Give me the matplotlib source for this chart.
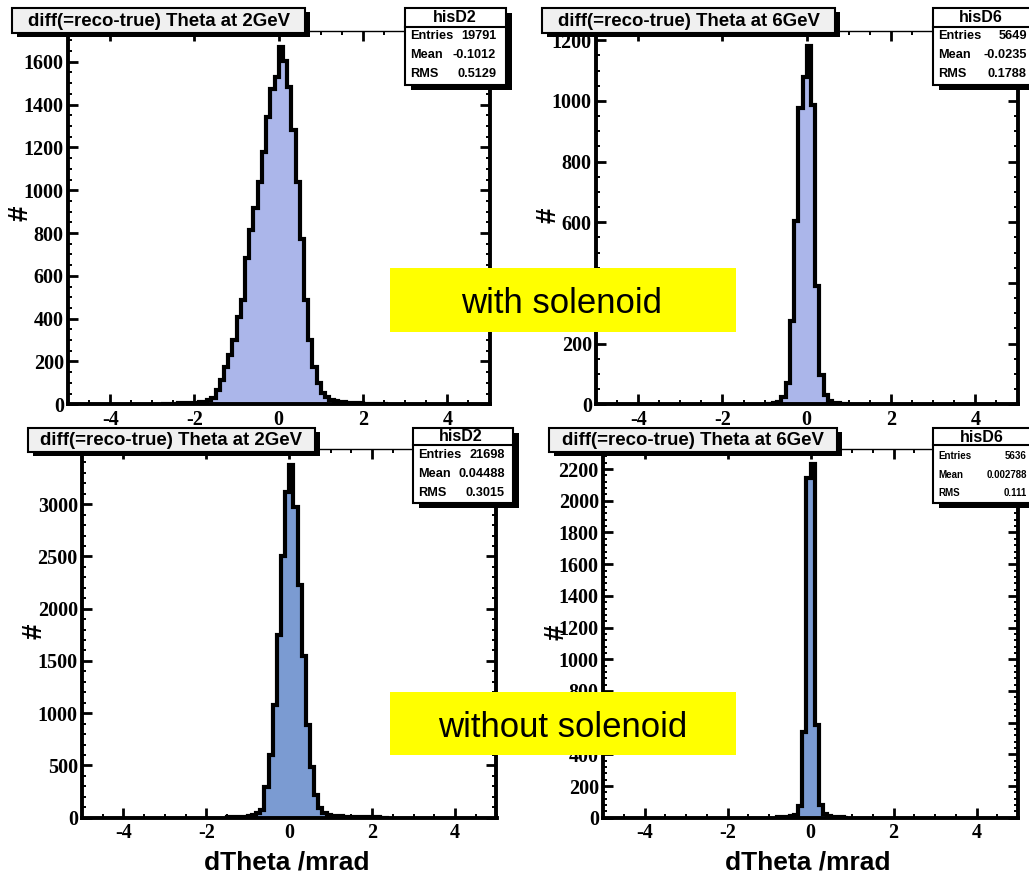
import numpy as np
import matplotlib
matplotlib.use('Agg')
import matplotlib.pyplot as plt
from matplotlib.patches import Rectangle
from matplotlib.ticker import MultipleLocator, FuncFormatter

plt.rcParams['axes.unicode_minus'] = False
plt.rcParams['font.family'] = ['Liberation Serif', 'DejaVu Serif']
plt.rcParams['font.weight'] = 'bold'

BIN_WIDTH = 0.1

# ---- data (counts per 0.1 mrad bin, first bin left edge given by *_start) ----
# with solenoid, 2 GeV
tl_start = -2.8
tl_counts = [2, 2, 3, 3, 4, 4, 5, 6, 8, 10, 13, 18,
             28, 67, 114, 176, 230, 300, 409, 487, 682, 814, 915, 1040, 1180, 1343, 1475, 1530,
             1668, 1605, 1482, 1283, 1040, 772, 487, 300, 176, 98, 55, 35, 22, 16, 12, 10, 8, 6,
             5, 4, 3, 3, 2, 2, 1, 1]
# with solenoid, 6 GeV
tr_start = -1.0
tr_counts = [1, 2, 3, 6, 25, 69, 275, 605, 977, 1080, 1180, 985, 390, 95, 30, 12, 5, 3, 2, 1]
# without solenoid, 2 GeV
bl_start = -1.5
bl_counts = [3, 4, 6, 8, 11, 15, 22, 41, 74, 296, 600, 1079, 1749, 2506, 3115,
             3370, 2970, 2225, 1550, 890, 485, 217, 90, 45, 28, 20, 15, 12, 10, 8, 6, 5, 4, 3, 3,
             2, 2, 1, 1]
# without solenoid, 6 GeV
br_start = -0.8
br_counts = [2, 3, 4, 8, 20, 72, 543, 2143, 2232, 586, 78, 22, 8, 4, 3, 2, 1]

titles = ["diff(=reco-true) Theta at 2GeV", "diff(=reco-true) Theta at 6GeV",
          "diff(=reco-true) Theta at 2GeV", "diff(=reco-true) Theta at 6GeV"]
stat_names = ["hisD2", "hisD6", "hisD2", "hisD6"]
stat_entries = ["19791", "5649", "21698", "5636"]
stat_means = ["-0.1012", "-0.0235", "0.04488", "0.002788"]
stat_rms = ["0.5129", "0.1788", "0.3015", "0.111"]
xlabel_text = "dTheta /mrad"
ylabel_text = "#"
banner_texts = ["with solenoid", "without solenoid"]

TOP_FILL = '#abb6ea'
BOT_FILL = '#7b9bd2'

W, H = 1029, 873
fig = plt.figure(figsize=(W / 100, H / 100), dpi=100)
fig.patch.set_facecolor('white')


def fig_rect(x0, x1, ytop, ybot):
    return [x0 / W, 1 - ybot / H, (x1 - x0) / W, (ybot - ytop) / H]


# 'hidden' = tick labels that lie completely under a title box / yellow banner
panels = [
    dict(counts=tl_counts, start=tl_start, rect=fig_rect(68, 489.5, 30.5, 404.3),
         ymax=1746, ymaj=200, ymin=50, fill=TOP_FILL, hidden=()),
    dict(counts=tr_counts, start=tr_start, rect=fig_rect(596, 1017.5, 30.5, 404.3),
         ymax=1232, ymaj=200, ymin=50, fill=TOP_FILL, hidden=(400,)),
    dict(counts=bl_counts, start=bl_start, rect=fig_rect(82, 496.5, 449.3, 817.7),
         ymax=3525, ymaj=500, ymin=100, fill=BOT_FILL, hidden=(3500,)),
    dict(counts=br_counts, start=br_start, rect=fig_rect(603, 1018, 449.3, 817.7),
         ymax=2325, ymaj=200, ymin=40, fill=BOT_FILL, hidden=(600,)),
]


def make_yfmt(hidden):
    def f(v, pos):
        iv = int(round(v))
        return '' if iv in hidden else "%d" % iv
    return FuncFormatter(f)


for p in panels:
    ax = fig.add_axes(p['rect'])
    counts = np.array(p['counts'], dtype=float)
    edges = p['start'] + BIN_WIDTH * np.arange(len(counts) + 1)
    ax.stairs(counts, edges, fill=True, color=p['fill'], lw=0, zorder=2)
    ax.stairs(counts, edges, baseline=0, color='black', lw=3.0, zorder=3)
    ax.set_xlim(-5, 5)
    ax.set_ylim(0, p['ymax'])
    ax.xaxis.set_major_locator(MultipleLocator(2))
    ax.xaxis.set_minor_locator(MultipleLocator(0.5))
    ax.yaxis.set_major_locator(MultipleLocator(p['ymaj']))
    ax.yaxis.set_minor_locator(MultipleLocator(p['ymin']))
    ax.xaxis.set_major_formatter(FuncFormatter(lambda v, pos: "%d" % round(v)))
    ax.yaxis.set_major_formatter(make_yfmt(p['hidden']))
    ax.tick_params(which='both', direction='in', top=True, right=True,
                   labelsize=14.5, colors='black')
    ax.tick_params(which='major', length=7.5, width=2.0)
    ax.tick_params(which='minor', length=3.2, width=1.4)
    ax.tick_params(axis='x', pad=4)
    ax.tick_params(axis='y', pad=3)
    for s in ['left', 'bottom', 'right']:
        ax.spines[s].set_linewidth(2.8)
    ax.spines['top'].set_linewidth(1.0)
    ax.set_facecolor('white')

# ---- overlay in pixel coordinates for boxes and labels ----
ov = fig.add_axes([0, 0, 1, 1], zorder=10)
ov.set_xlim(0, W)
ov.set_ylim(H, 0)
ov.axis('off')

SANS = ['Liberation Sans', 'DejaVu Sans']


def title_box(x0, x1, y0, y1, text):
    ov.add_patch(Rectangle((x0 + 5, y0 + 4), x1 - x0, y1 - y0, fc='black', ec='none'))
    ov.add_patch(Rectangle((x0, y0), x1 - x0, y1 - y0, fc='#f0f0f0', ec='black', lw=1.5))
    ov.text((x0 + x1) / 2, (y0 + y1) / 2 + 0.5, text, ha='center', va='center',
            family=SANS, weight='bold', size=13.4)


def stats_box(x0, x1, y0, y1, yline, name, cx, rows_y, lx, rx, entries, mean, rms, fs):
    ov.add_patch(Rectangle((x0 + 6, y0 + 5), x1 - x0, y1 - y0, fc='black', ec='none'))
    ov.add_patch(Rectangle((x0, y0), x1 - x0, y1 - y0, fc='white', ec='black', lw=1.5))
    ov.plot([x0, x1], [yline, yline], color='black', lw=1.5)
    ov.text(cx, (y0 + yline) / 2 + 0.5, name, ha='center', va='center',
            family=SANS, weight='bold', size=11.5)
    for lab, val, yy in zip(["Entries", "Mean", "RMS"], [entries, mean, rms], rows_y):
        ov.text(lx, yy, lab, ha='left', va='center', family=SANS, weight='bold', size=fs)
        ov.text(rx, yy, val, ha='right', va='center', family=SANS, weight='bold', size=fs)


title_box(12, 305, 8, 33, titles[0])
title_box(542, 835, 8, 33, titles[1])
title_box(28, 315, 428, 452, titles[2])
title_box(549, 837, 428, 452, titles[3])

stats_box(405, 506, 7.5, 85, 26.5, stat_names[0], 455, [36, 55, 74], 410, 496,
          stat_entries[0], stat_means[0], stat_rms[0], 9.2)
stats_box(933, 1040, 7.5, 85, 26.5, stat_names[1], 981, [36, 55, 74], 938, 1027,
          stat_entries[1], stat_means[1], stat_rms[1], 9.2)
stats_box(413, 513, 427.5, 503, 445, stat_names[2], 461, [455, 474, 493], 418, 505,
          stat_entries[2], stat_means[2], stat_rms[2], 9.2)
stats_box(933, 1040, 428, 503, 445, stat_names[3], 982, [456, 475, 493.5], 938, 1027,
          stat_entries[3], stat_means[3], stat_rms[3], 7.0)

# axis titles
for (x, y) in [(20, 213), (549, 215), (35, 631), (556, 632)]:
    ov.text(x, y, ylabel_text, rotation=90, ha='center', va='center',
            family=SANS, weight='bold', size=20)
for x in [287, 808]:
    ov.text(x, 862, xlabel_text, ha='center', va='center',
            family=SANS, weight='bold', size=19)

# yellow banners
ov.add_patch(Rectangle((390, 268), 346, 64, fc='#ffff00', ec='none'))
ov.text(562, 313, banner_texts[0], ha='center', va='baseline', family=SANS,
        weight='normal', size=25)
ov.add_patch(Rectangle((390, 692), 346, 63, fc='#ffff00', ec='none'))
ov.text(563, 737, banner_texts[1], ha='center', va='baseline', family=SANS,
        weight='normal', size=25)

fig.savefig('out.png', dpi=100, facecolor='white')
